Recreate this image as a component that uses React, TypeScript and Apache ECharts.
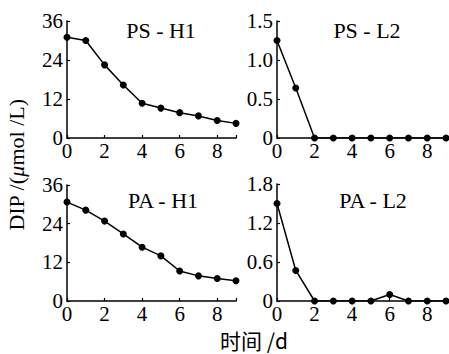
import React, { useEffect, useRef } from "react";
import * as echarts from "echarts";

const days = [0, 1, 2, 3, 4, 5, 6, 7, 8, 9];
const psH1 = [31.0, 30.0, 22.5, 16.3, 10.7, 9.2, 7.8, 6.8, 5.4, 4.5];
const psL2 = [1.25, 0.64, 0, 0, 0, 0, 0, 0, 0, 0];
const paH1 = [30.7, 28.2, 24.8, 20.8, 16.7, 14.0, 9.3, 7.8, 7.0, 6.3];
const paL2 = [1.5, 0.47, 0, 0, 0, 0, 0.1, 0, 0, 0];
const panelTitles = ["PS - H1", "PS - L2", "PA - H1", "PA - L2"];
const yMax = [36, 1.5, 36, 1.8];
const yInterval = [12, 0.5, 12, 0.6];
const xTitle = "时间 /d";

const FONT = "Liberation Serif";

export default function App() {
  const ref = useRef<HTMLDivElement>(null);
  useEffect(() => {
    const chart = echarts.init(ref.current!, null, { renderer: "svg" });
    const grids = [
      { left: 67, top: 21, width: 169, height: 117 },
      { left: 277, top: 21, width: 169, height: 117 },
      { left: 67, top: 185, width: 169, height: 116 },
      { left: 277, top: 184, width: 169, height: 117 },
    ];
    const seriesData = [psH1, psL2, paH1, paL2];
    const axisLine = { lineStyle: { color: "#000", width: 1.5 } };
    const axisTick = { inside: true, length: 3, lineStyle: { color: "#000", width: 1.2 } };
    const labelStyle = { color: "#000", fontSize: 21, fontFamily: FONT, fontWeight: "normal" };
    const option: any = {
      animation: false,
      backgroundColor: "#fff",
      textStyle: { fontFamily: FONT },
      title: panelTitles.map((t, i) => ({
        text: t,
        left: [156, 362, 158, 368][i],
        top: [14, 14, 184, 184][i],
        textAlign: "center",
        textStyle: { color: "#000", fontSize: 22, fontWeight: "normal", fontFamily: FONT },
      })),
      grid: grids,
      xAxis: grids.map((_, i) => ({
        type: "value",
        gridIndex: i,
        min: 0,
        max: 9,
        interval: 2,
        axisLine,
        axisTick,
        splitLine: { show: false },
        axisLabel: {
          ...labelStyle,
          margin: 2,
          formatter: (v: number) => (v % 2 === 0 ? String(v) : ""),
        },
      })),
      yAxis: grids.map((_, i) => ({
        type: "value",
        gridIndex: i,
        min: 0,
        max: yMax[i],
        interval: yInterval[i],
        axisLine: { show: true, ...axisLine },
        axisTick,
        splitLine: { show: false },
        axisLabel: {
          ...labelStyle,
          margin: 4,
          formatter: (v: number) => (v === 0 ? "0" : i % 2 === 1 ? v.toFixed(1) : String(v)),
        },
      })),
      series: seriesData.map((d, i) => ({
        type: "line",
        xAxisIndex: i,
        yAxisIndex: i,
        data: days.map((x, j) => [x, d[j]]),
        symbol: "circle",
        symbolSize: 7,
        itemStyle: { color: "#000" },
        lineStyle: { color: "#000", width: 1.5 },
      })),
      graphic: [
        {
          type: "text",
          x: 16,
          y: 165,
          rotation: Math.PI / 2,
          style: {
            text: "{a|DIP /(}{b|μ}{a|mol /L)}",
            fontFamily: FONT,
            fontSize: 21,
            rich: {
              a: { fontSize: 22, fontFamily: FONT, fill: "#000" },
              b: { fontSize: 22, fontFamily: FONT, fontStyle: "italic", fill: "#000" },
            },
            align: "center",
            verticalAlign: "middle",
          },
        },
        {
          type: "text",
          x: 254,
          y: 340,
          style: {
            text: xTitle,
            fontSize: 21,
            fontFamily: "Noto Sans CJK SC",
            fill: "#000",
            align: "center",
            verticalAlign: "middle",
          },
        },
      ],
    };
    chart.setOption(option);
    return () => chart.dispose();
  }, []);
  return (
    <div
      ref={ref}
      style={{ position: "fixed", left: 0, top: 0, width: 449, height: 354 }}
    />
  );
}
